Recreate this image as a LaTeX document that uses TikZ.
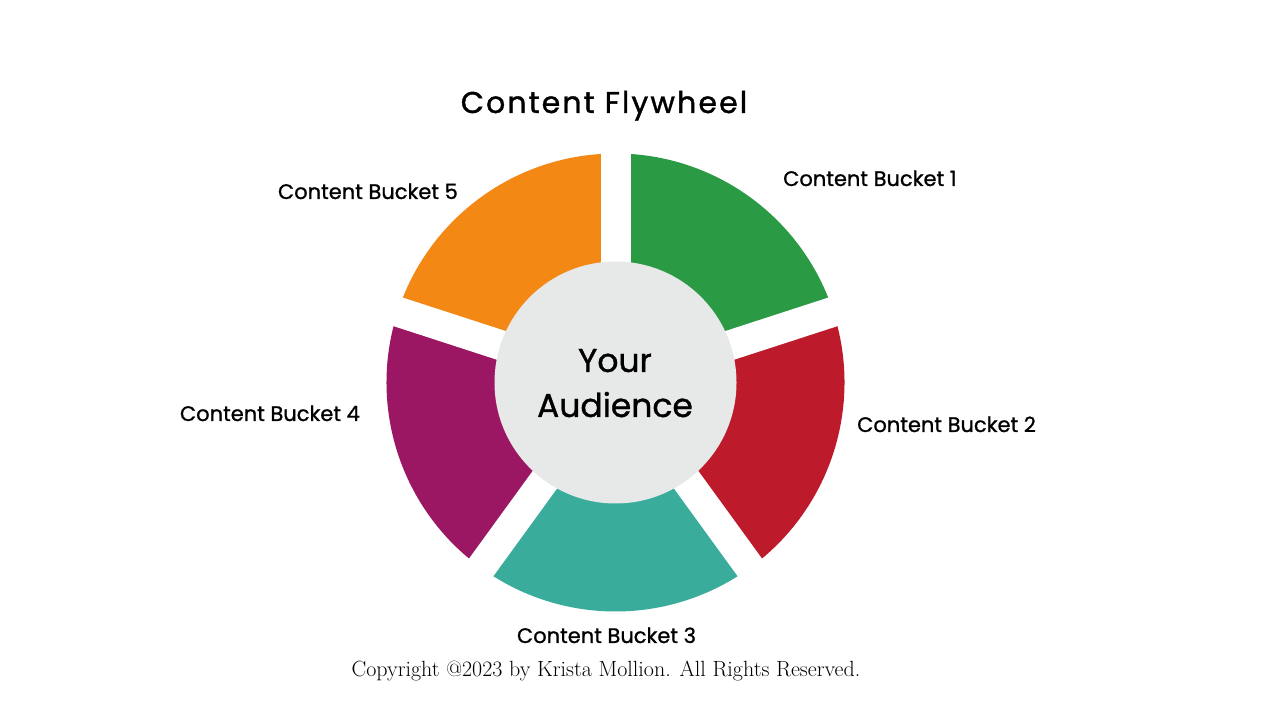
\documentclass[tikz,border=0pt]{standalone}
\usepackage{fontspec}
\usetikzlibrary{calc}
\setmainfont{Poppins}[FakeBold=1]
\newfontfamily\titlefont{Poppins}[FakeBold=1.2,LetterSpace=7]
\newfontfamily\copyfont{Latin Modern Roman}
\definecolor{cgreen}{HTML}{2A9A44}
\definecolor{cred}{HTML}{BD1B2B}
\definecolor{cteal}{HTML}{39AC9C}
\definecolor{cpurple}{HTML}{9B1763}
\definecolor{corange}{HTML}{F48815}
\definecolor{ccircle}{HTML}{E7E9E8}
\begin{document}
\begin{tikzpicture}[x=1pt,y=1pt,
  bucketlabel/.style={inner sep=0pt,font=\fontsize{21}{25}\selectfont},
  centertext/.style={anchor=base,inner sep=0pt,font=\fontsize{33}{37}\selectfont},
  gapbar/.style={draw=white,line width=30pt}]
\useasboundingbox (0,0) rectangle (1280,720);
\fill[white] (0,0) rectangle (1280,720);
\coordinate (c) at (615.5,337.5);
\def\R{229}
% sectors
\fill[cgreen]  (c) -- ++(18:\R)   arc (18:90:\R)    -- cycle;
\fill[corange] (c) -- ++(90:\R)   arc (90:162:\R)   -- cycle;
\fill[cpurple] (c) -- ++(162:\R)  arc (162:234:\R)  -- cycle;
\fill[cteal]   (c) -- ++(234:\R)  arc (234:306:\R)  -- cycle;
\fill[cred]    (c) -- ++(306:\R)  arc (306:378:\R)  -- cycle;
% gaps
\foreach \a in {18,90,162,234,306}{
  \coordinate (g\a) at ($(c)+(\a:245)$);
}
\draw[gapbar] (c) -- (g18);
\draw[gapbar] (c) -- (g90);
\draw[gapbar] (c) -- (g162);
\draw[gapbar] (c) -- (g234);
\draw[gapbar] (c) -- (g306);
% center
\node[circle,fill=ccircle,minimum size=242pt,inner sep=0pt] (aud) at (c) {};
\node[centertext] (your) at (615,348) {Your};
\node[centertext] (audience) at (615,303) {Audience};
% title
\node[anchor=base,inner sep=0pt,font=\titlefont\fontsize{30}{34}\selectfont] (title) at (604,607) {Content Flywheel};
% labels
\node[bucketlabel,anchor=base west] (b1) at (783,534) {Content Bucket 1};
\node[bucketlabel,anchor=base west] (b2) at (857,288) {Content Bucket 2};
\node[bucketlabel,anchor=base] (b3) at (606.5,77) {Content Bucket 3};
\node[bucketlabel,anchor=base east] (b4) at (360,299) {Content Bucket 4};
\node[bucketlabel,anchor=base east] (b5) at (458,521) {Content Bucket 5};
% copyright
\node[anchor=base,inner sep=0pt,font=\copyfont\fontsize{22}{26}\selectfont] (copy) at (606,43) {Copyright @2023 by Krista Mollion. All Rights Reserved.};
\end{tikzpicture}
\end{document}
